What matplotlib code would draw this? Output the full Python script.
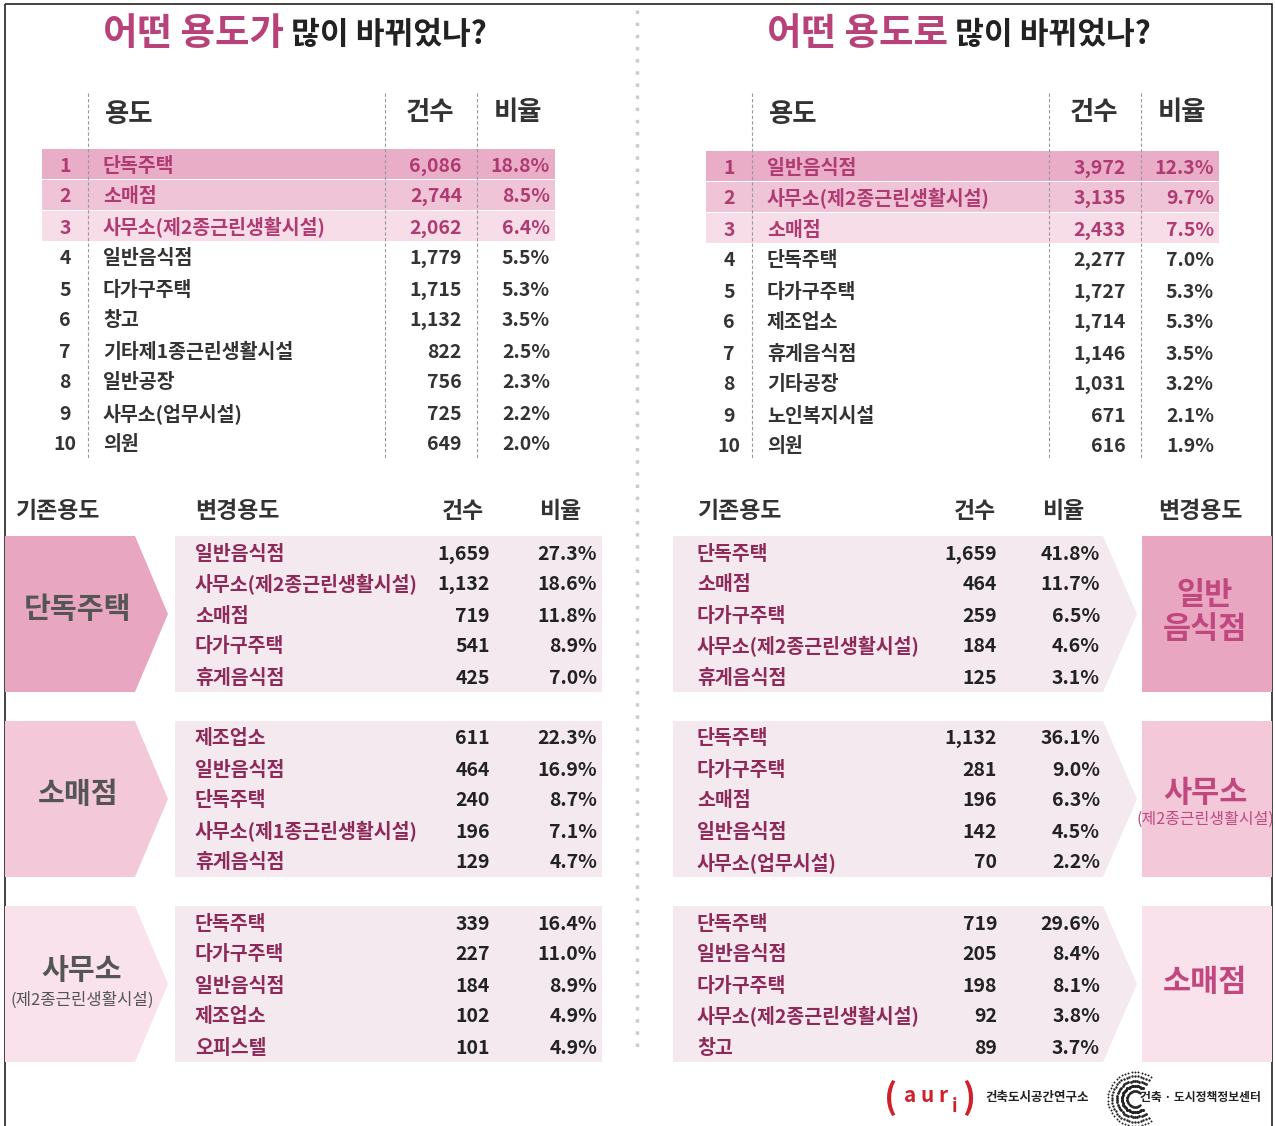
import matplotlib.pyplot as plt
from matplotlib.patches import Rectangle, Polygon
import numpy as np

plt.rcParams['font.family'] = ['Noto Sans CJK KR', 'DejaVu Sans']

# top tables: which uses changed most (left) / changed into most (right)
from_names = ['단독주택', '소매점', '사무소(제2종근린생활시설)', '일반음식점', '다가구주택',
              '창고', '기타제1종근린생활시설', '일반공장', '사무소(업무시설)', '의원']
from_counts = [6086, 2744, 2062, 1779, 1715, 1132, 822, 756, 725, 649]
from_pcts = [18.8, 8.5, 6.4, 5.5, 5.3, 3.5, 2.5, 2.3, 2.2, 2.0]

to_names = ['일반음식점', '사무소(제2종근린생활시설)', '소매점', '단독주택', '다가구주택',
            '제조업소', '휴게음식점', '기타공장', '노인복지시설', '의원']
to_counts = [3972, 3135, 2433, 2277, 1727, 1714, 1146, 1031, 671, 616]
to_pcts = [12.3, 9.7, 7.5, 7.0, 5.3, 5.3, 3.5, 3.2, 2.1, 1.9]

# bottom left: existing use -> new use
old_groups = ['단독주택', '소매점', '사무소']
old_sub = [None, None, '(제2종근린생활시설)']
old_new_names = [['일반음식점', '사무소(제2종근린생활시설)', '소매점', '다가구주택', '휴게음식점'],
                 ['제조업소', '일반음식점', '단독주택', '사무소(제1종근린생활시설)', '휴게음식점'],
                 ['단독주택', '다가구주택', '일반음식점', '제조업소', '오피스텔']]
old_new_counts = [[1659, 1132, 719, 541, 425],
                  [611, 464, 240, 196, 129],
                  [339, 227, 184, 102, 101]]
old_new_pcts = [[27.3, 18.6, 11.8, 8.9, 7.0],
                [22.3, 16.9, 8.7, 7.1, 4.7],
                [16.4, 11.0, 8.9, 4.9, 4.9]]

# bottom right: new use <- existing use
new_groups = ['일반\n음식점', '사무소', '소매점']
new_sub = [None, '(제2종근린생활시설)', None]
new_old_names = [['단독주택', '소매점', '다가구주택', '사무소(제2종근린생활시설)', '휴게음식점'],
                 ['단독주택', '다가구주택', '소매점', '일반음식점', '사무소(업무시설)'],
                 ['단독주택', '일반음식점', '다가구주택', '사무소(제2종근린생활시설)', '창고']]
new_old_counts = [[1659, 464, 259, 184, 125],
                  [1132, 281, 196, 142, 70],
                  [719, 205, 198, 92, 89]]
new_old_pcts = [[41.8, 11.7, 6.5, 4.6, 3.1],
                [36.1, 9.0, 6.3, 4.5, 2.2],
                [29.6, 8.4, 8.1, 3.8, 3.7]]

MAG = '#b8417a'
HL_TXT = '#b03a72'
DARK = '#333333'
ROWNAME = '#8e2a5a'
band_cols = ['#e9adc8', '#f0c4d7', '#f7dde8']
grp_cols = ['#e8a6c1', '#f3c9da', '#f9e2eb']
PANEL = '#f3e9ee'
W = 'bold'
FS = 14

fig = plt.figure(figsize=(12.75, 11.26), dpi=100)
ax = fig.add_axes([0, 0, 1, 1])
ax.set_xlim(0, 1275)
ax.set_ylim(1126, 0)
ax.axis('off')

# frame and divider
ax.add_patch(Rectangle((5, 4), 1267, 1130, fill=False, ec='#222222', lw=1.2))
ax.plot([637, 637], [10, 1050], color='#cccccc', lw=2.5, ls=(0, (1, 2.5)))

# titles
for x0, a, b in [(103, '어떤 용도가', ' 많이 바뀌었나?'), (767, '어떤 용도로', ' 많이 바뀌었나?')]:
    t = ax.text(x0, 34, a, color=MAG, fontsize=27, fontweight='bold', va='center')
    ax.annotate(b, xy=(1, 0.5), xycoords=t, xytext=(0, -1), textcoords='offset points',
                color='#222222', fontsize=22.5, fontweight='bold', va='center')


def top_table(x_off, names, counts, pcts, y0):
    # header
    ax.text(x_off + 105, 114, '용도', fontsize=19, color=DARK, va='center', fontweight=W)
    ax.text(x_off + 430, 112, '건수', fontsize=19, color=DARK, va='center', ha='center', fontweight=W)
    ax.text(x_off + 518, 112, '비율', fontsize=19, color=DARK, va='center', ha='center', fontweight=W)
    for lx in [88, 385, 477]:
        ax.plot([x_off + lx, x_off + lx], [93, 458], color='#999999', lw=0.8, ls=(0, (3, 2)))
    step = 31
    for i in range(len(names)):
        y = y0 + i * step
        hl = i < 3
        if hl:
            ax.add_patch(Rectangle((x_off + 42, y - 15), 513, 30, color=band_cols[i], lw=0, zorder=0))
        c = HL_TXT if hl else DARK
        ty = y + 2
        ax.text(x_off + 65, ty, str(i + 1), fontsize=FS, color=c, ha='center', va='center', fontweight=W)
        ax.text(x_off + 103, ty, names[i], fontsize=FS, color=c, va='center', fontweight=W)
        ax.text(x_off + 462, ty, f'{counts[i]:,}', fontsize=FS, color=c, ha='right', va='center', fontweight=W)
        ax.text(x_off + 550, ty, f'{pcts[i]:.1f}%', fontsize=FS, color=c, ha='right', va='center', fontweight=W)


top_table(0, from_names, from_counts, from_pcts, 164)
top_table(664, to_names, to_counts, to_pcts, 166)

# bottom headers
hy = 512
hk = dict(fontsize=16.5, color=DARK, va='center', fontweight=W)
ax.text(15, hy, '기존용도', **hk)
ax.text(195, hy, '변경용도', **hk)
ax.text(463, hy, '건수', ha='center', **hk)
ax.text(560, hy, '비율', ha='center', **hk)
ax.text(697, hy, '기존용도', **hk)
ax.text(975, hy, '건수', ha='center', **hk)
ax.text(1063, hy, '비율', ha='center', **hk)
ax.text(1200, hy, '변경용도', ha='center', **hk)

group_tops = [536, 721, 906]
gh = 156
rstep = 31
for g in range(3):
    top = group_tops[g]
    mid = top + gh / 2
    # left: arrow with existing use
    ax.add_patch(Polygon([(5, top), (135, top), (168, mid), (135, top + gh), (5, top + gh)],
                         closed=True, color=grp_cols[g], lw=0))
    if old_sub[g] is None:
        ax.text(78, mid - 5, old_groups[g], fontsize=21, color='#555555', ha='center', va='center',
                fontweight='bold')
    else:
        ax.text(82, mid - 14, old_groups[g], fontsize=21, color='#555555', ha='center', va='center',
                fontweight='bold')
        ax.text(82, mid + 16, old_sub[g], fontsize=12, color='#555555', ha='center', va='center')
    ax.add_patch(Rectangle((175, top), 427, gh, color=PANEL, lw=0))
    for i in range(5):
        y = top + 18 + i * rstep
        ax.text(195, y, old_new_names[g][i], fontsize=FS, color=ROWNAME, va='center', fontweight=W)
        ax.text(490, y, f'{old_new_counts[g][i]:,}', fontsize=FS, color='#222222', ha='right',
                va='center', fontweight=W)
        ax.text(597, y, f'{old_new_pcts[g][i]:.1f}%', fontsize=FS, color='#222222', ha='right',
                va='center', fontweight=W)

    # right: panel arrow into new use box
    ax.add_patch(Polygon([(673, top), (1103, top), (1137, mid), (1103, top + gh), (673, top + gh)],
                         closed=True, color=PANEL, lw=0))
    ax.add_patch(Rectangle((1142, top), 130, gh, color=grp_cols[g], lw=0))
    if new_sub[g] is None:
        ax.text(1205, mid - 2, new_groups[g], fontsize=22, color='#c0487e', ha='center', va='center',
                fontweight='bold', linespacing=1.1)
    else:
        ax.text(1205, mid - 6, new_groups[g], fontsize=22, color='#c0487e', ha='center', va='center',
                fontweight='bold')
        ax.text(1205, mid + 20, new_sub[g], fontsize=11.5, color='#c0487e', ha='center', va='center')
    for i in range(5):
        y = top + 18 + i * rstep
        ax.text(697, y, new_old_names[g][i], fontsize=FS, color=ROWNAME, va='center', fontweight=W)
        ax.text(997, y, f'{new_old_counts[g][i]:,}', fontsize=FS, color='#222222', ha='right',
                va='center', fontweight=W)
        ax.text(1100, y, f'{new_old_pcts[g][i]:.1f}%', fontsize=FS, color='#222222', ha='right',
                va='center', fontweight=W)

# logos at the bottom right
ax.text(884, 1098, '(', fontsize=25, color='#d0202a', va='center', fontweight='bold')
ax.text(904, 1096, 'a u r', fontsize=15, color='#d0202a', va='center', fontweight='bold')
ax.text(952, 1106, 'i', fontsize=13, color='#d0202a', va='center', fontweight='bold')
ax.text(962, 1098, ')', fontsize=25, color='#d0202a', va='center', fontweight='bold')
ax.text(985, 1098, '건축도시공간연구소', fontsize=9, color='#222222', va='center', fontweight='bold')
ang = np.linspace(0.3 * np.pi, 1.7 * np.pi, 36)
for r, s in [(8, 3), (13, 5), (18, 4), (23, 3), (27, 2)]:
    ax.scatter(1135 + r * np.cos(ang), 1099 - r * np.sin(ang), s=s, color='#222222', lw=0)
ax.text(1140, 1098, '건축 · 도시정책정보센터', fontsize=8.5, color='#222222', va='center', fontweight='bold')

fig.savefig('out.png', dpi=100)
